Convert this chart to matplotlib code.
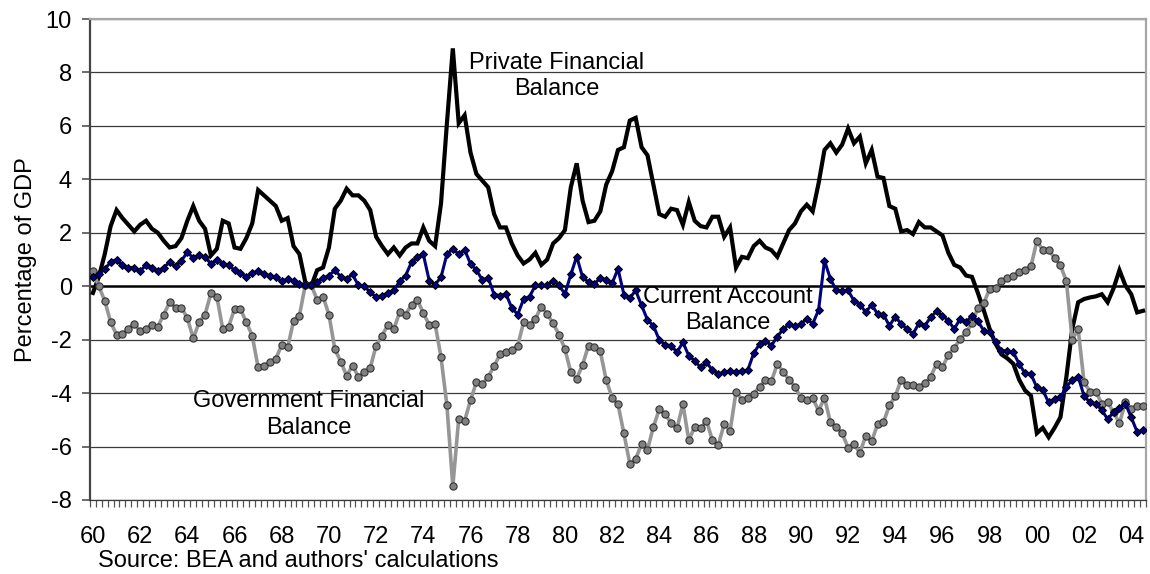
import matplotlib
matplotlib.use("Agg")
import matplotlib.pyplot as plt
import numpy as np

plt.rcParams["font.family"] = ["Liberation Sans", "DejaVu Sans"]
plt.rcParams["font.size"] = 17
plt.rcParams["axes.unicode_minus"] = False

# quarterly, 1960Q1 .. 2004Q3, percent of GDP
private = [
    -0.25, 0.35, 1.2, 2.25, 2.85, 2.55, 2.3, 2.05, 2.3, 2.45, 2.15, 2.0, 1.7, 1.45, 1.5, 1.8,
    2.45, 3.0, 2.45, 2.15, 1.15, 1.4, 2.45, 2.35, 1.45, 1.4, 1.8, 2.35, 3.6, 3.4, 3.2, 3.0,
    2.45, 2.55, 1.5, 1.2, 0.15, 0.0, 0.6, 0.7, 1.45, 2.9, 3.2, 3.65, 3.4, 3.4, 3.2, 2.85,
    1.85, 1.5, 1.2, 1.45, 1.15, 1.45, 1.6, 1.6, 2.2, 1.7, 1.5, 3.1, 6.1, 8.9, 6.1, 6.4,
    5.0, 4.2, 3.95, 3.7, 2.7, 2.2, 2.2, 1.6, 1.15, 0.85, 1.0, 1.25, 0.8, 1.0, 1.6, 1.8,
    2.1, 3.7, 4.6, 3.2, 2.4, 2.45, 2.8, 3.8, 4.3, 5.1, 5.2, 6.2, 6.3, 5.2, 4.9, 3.8,
    2.7, 2.6, 2.9, 2.85, 2.3, 3.15, 2.45, 2.25, 2.2, 2.6, 2.6, 1.85, 2.2, 0.7, 1.1, 1.05,
    1.5, 1.7, 1.45, 1.35, 1.1, 1.6, 2.1, 2.35, 2.8, 3.05, 2.8, 3.85, 5.1, 5.35, 5.0, 5.3,
    5.9, 5.35, 5.6, 4.6, 5.1, 4.1, 4.05, 3.0, 2.9, 2.05, 2.1, 1.95, 2.4, 2.2, 2.2, 2.05,
    1.9, 1.25, 0.8, 0.7, 0.4, 0.35, -0.25, -0.9, -1.6, -2.15, -2.55, -2.7, -2.9, -3.5, -3.9, -4.1,
    -5.5, -5.3, -5.65, -5.3, -4.9, -3.4, -1.6, -0.6, -0.48, -0.42, -0.38, -0.3, -0.6, -0.08, 0.6, 0.03,
    -0.3, -0.98, -0.92,
]
current = [
    0.34, 0.44, 0.65, 0.9, 1.0, 0.78, 0.7, 0.7, 0.56, 0.8, 0.7, 0.56, 0.7, 0.9, 0.75, 0.96,
    1.27, 1.06, 1.15, 1.09, 0.84, 0.99, 0.84, 0.78, 0.6, 0.49, 0.34, 0.49, 0.56, 0.44, 0.4, 0.34,
    0.18, 0.28, 0.18, 0.09, 0.06, 0.03, 0.15, 0.3, 0.4, 0.59, 0.36, 0.28, 0.44, 0.03, -0.01, -0.22,
    -0.41, -0.35, -0.26, -0.16, 0.19, 0.4, 0.9, 1.09, 1.19, 0.21, 0.06, 0.34, 1.2, 1.4, 1.19, 1.36,
    0.84, 0.6, 0.24, 0.31, -0.31, -0.35, -0.29, -0.81, -1.06, -0.48, -0.39, 0.03, 0.03, 0.03, 0.21, 0.03,
    -0.29, 0.44, 1.11, 0.34, 0.15, 0.09, 0.31, 0.24, 0.11, 0.65, -0.31, -0.44, -0.16, -0.72, -1.26, -1.48,
    -2.01, -2.19, -2.22, -2.47, -2.1, -2.6, -2.79, -3.04, -2.85, -3.14, -3.29, -3.22, -3.19, -3.22, -3.19, -3.14,
    -2.51, -2.16, -2.04, -2.22, -1.89, -1.6, -1.43, -1.5, -1.41, -1.22, -1.41, -0.89, 0.96, 0.28, -0.16, -0.19,
    -0.16, -0.54, -0.69, -0.97, -0.69, -1.04, -1.06, -1.48, -1.14, -1.41, -1.6, -1.79, -1.39, -1.48, -1.16, -0.94,
    -1.1, -1.29, -1.6, -1.22, -1.35, -1.1, -1.31, -1.66, -1.73, -2.1, -2.41, -2.41, -2.47, -2.91, -3.26, -3.29,
    -3.79, -3.89, -4.35, -4.22, -4.16, -3.76, -3.51, -3.39, -4.1, -4.35, -4.39, -4.64, -4.97, -4.72, -4.54, -4.39,
    -4.91, -5.45, -5.39,
]
government = [
    0.56, -0.01, -0.54, -1.35, -1.81, -1.79, -1.6, -1.41, -1.69, -1.6, -1.44, -1.51, -1.06, -0.6, -0.8, -0.8,
    -1.19, -1.95, -1.35, -1.06, -0.26, -0.39, -1.6, -1.51, -0.85, -0.85, -1.35, -1.85, -3.04, -2.97, -2.85, -2.72,
    -2.19, -2.29, -1.31, -1.1, 0.06, 0.03, -0.5, -0.39, -1.06, -2.35, -2.82, -3.35, -2.97, -3.39, -3.22, -3.06,
    -2.22, -1.85, -1.44, -1.6, -0.97, -1.06, -0.69, -0.51, -1.01, -1.44, -1.41, -2.66, -4.46, -7.49, -4.96, -5.04,
    -4.27, -3.59, -3.67, -3.39, -2.99, -2.55, -2.46, -2.4, -2.22, -1.35, -1.44, -1.22, -0.76, -1.04, -1.39, -1.81,
    -2.35, -3.22, -3.46, -2.94, -2.22, -2.29, -2.44, -3.51, -4.17, -4.42, -5.51, -6.64, -6.46, -5.9, -6.12, -5.26,
    -4.61, -4.79, -5.11, -5.32, -4.41, -5.76, -5.26, -5.32, -5.04, -5.76, -5.94, -5.16, -5.42, -3.96, -4.24, -4.17,
    -4.02, -3.77, -3.5, -3.55, -2.92, -3.21, -3.5, -3.77, -4.17, -4.24, -4.17, -4.67, -4.17, -5.09, -5.26, -5.51,
    -6.04, -5.9, -6.24, -5.6, -5.81, -5.16, -5.09, -4.46, -4.12, -3.5, -3.71, -3.71, -3.76, -3.64, -3.39, -2.91,
    -3.04, -2.56, -2.31, -1.98, -1.73, -1.39, -0.81, -0.64, -0.1, -0.06, 0.19, 0.31, 0.4, 0.52, 0.61, 0.74,
    1.69, 1.36, 1.36, 1.06, 0.78, 0.19, -2.01, -1.6, -3.6, -3.94, -3.94, -4.39, -4.35, -4.72, -5.12, -4.35,
    -4.6, -4.47, -4.47,
]
years = list(range(1960, 2005, 2))
year_labels = [f"{y % 100:02d}" for y in years]

q = np.arange(len(private))
NAVY, GREY = "#000080", "#969696"

fig = plt.figure(figsize=(11.5, 5.74), dpi=100)
ax = fig.add_axes([90 / 1150, 74 / 574, 1056 / 1150, 481 / 574])

for yv in range(-8, 11, 2):
    if yv != 0:
        ax.axhline(yv, color="#3a3a3a", lw=0.9, zorder=1)
ax.axhline(0, color="black", lw=1.8, zorder=2)

ax.plot(q, private, color="black", lw=3.0, solid_joinstyle="miter", zorder=3)
ax.plot(q, government, color=GREY, lw=2.6, marker="o", ms=5.2, mfc="#808080",
        mec="#333333", mew=0.8, zorder=4)
ax.plot(q, current, color=NAVY, lw=2.2, marker="D", ms=3.8, mfc=NAVY,
        mec="black", mew=0.7, zorder=5)

ax.set_xlim(-0.5, len(q) - 0.5)
ax.set_ylim(-8, 10)
ax.set_yticks(range(-8, 11, 2))
ax.set_xticks(np.arange(0, len(q), 8))
ax.set_xticklabels(year_labels)
ax.set_xticks(np.arange(-0.5, len(q), 1), minor=True)
ax.tick_params(axis="x", which="major", length=0, pad=19)
ax.tick_params(axis="x", which="minor", length=5, width=0.9, color="#555555", direction="out")
ax.tick_params(axis="y", length=6, width=1.1, color="#444444", pad=7)

for side in ("top", "right"):
    ax.spines[side].set_color("#a6a6a6")
    ax.spines[side].set_linewidth(1.6)
ax.spines["left"].set_color("#444444")
ax.spines["left"].set_linewidth(1.6)
ax.spines["bottom"].set_color("#3a3a3a")
ax.spines["bottom"].set_linewidth(0.9)

ax.set_ylabel("Percentage of GDP", labelpad=6)

ax.text(78.6, 7.87, "Private Financial\nBalance", ha="center", va="center", linespacing=1.25)
ax.text(107.6, -0.9, "Current Account\nBalance", ha="center", va="center", linespacing=1.25)
ax.text(36.6, -4.8, "Government Financial\nBalance", ha="center", va="center", linespacing=1.25)

fig.text(98 / 1150, 1 - 561 / 574, "Source: BEA and authors' calculations", ha="left", va="center")

fig.savefig("out.png", dpi=100)
